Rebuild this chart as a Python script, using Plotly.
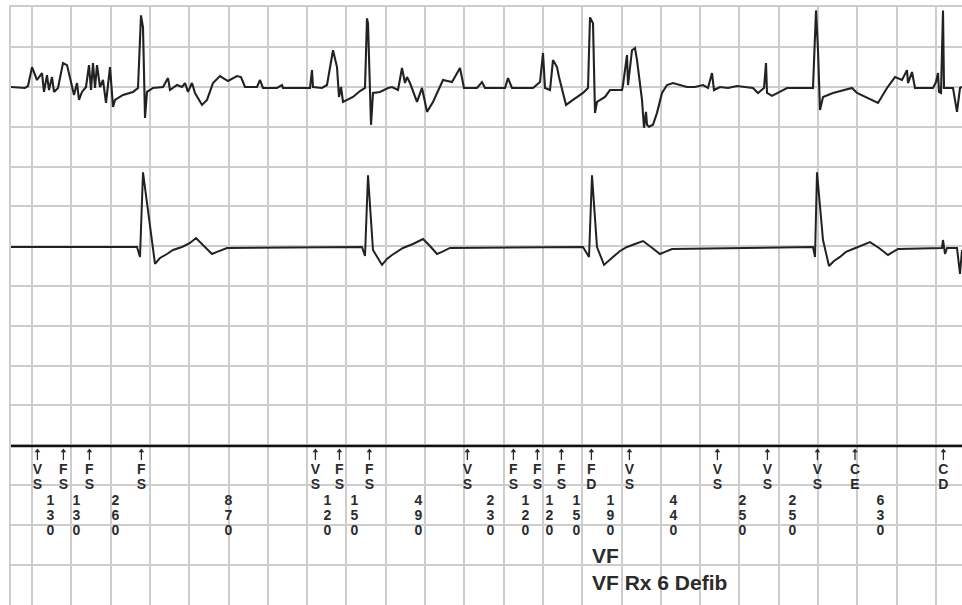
import plotly.graph_objects as go

# ---------------------------------------------------------------------------
# Channel 1: far-field electrogram vertices (time in ms, amplitude in µV)
# ---------------------------------------------------------------------------
egm1_t = [
    -105, -35, -20, 0, 25, 50, 60, 75, 85, 100,
    110, 130, 155, 175, 195, 210, 225, 235, 250, 270,
    285, 295, 305, 315, 325, 340, 355, 370, 390, 405,
    415, 455, 505, 530, 545, 555, 565, 575, 605, 655,
    680, 690, 725, 750, 765, 780, 800, 815, 850, 875,
    905, 940, 980, 1025, 1045, 1065, 1125, 1140, 1155, 1225,
    1250, 1255, 1390, 1400, 1405, 1450, 1475, 1505, 1525, 1535,
    1545, 1555, 1605, 1640, 1665, 1675, 1680, 1695, 1705, 1740,
    1780, 1800, 1830, 1850, 1865, 1875, 1890, 1925, 1950, 1975,
    2005, 2055, 2100, 2140, 2160, 2225, 2250, 2265, 2365, 2380,
    2400, 2505, 2540, 2555, 2565, 2590, 2605, 2625, 2635, 2650,
    2670, 2705, 2755, 2780, 2790, 2805, 2815, 2825, 2865, 2890,
    2950, 2955, 2975, 2980, 3000, 3015, 3025, 3050, 3060, 3070,
    3075, 3085, 3105, 3125, 3150, 3175, 3205, 3275, 3315, 3355,
    3380, 3400, 3410, 3440, 3480, 3525, 3605, 3630, 3660, 3670,
    3675, 3700, 3775, 3905, 3920, 3930, 3940, 3955, 4005, 4100,
    4125, 4230, 4275, 4315, 4350, 4375, 4380, 4400, 4415, 4505,
    4520, 4530, 4535, 4545, 4555, 4560, 4605, 4625, 4640, 4650,
]
egm1_uv = [
    0, -12, 12, 250, 88, 175, -62, 150, -38, 125,
    -62, -12, 300, 275, 62, -100, 50, -162, -62, 0,
    275, -38, 300, -12, 275, 0, 88, -200, 250, -250,
    -162, -100, -62, -12, 900, 750, -388, -62, -12, 0,
    112, -38, 25, 0, 50, -62, 50, -75, -225, -162,
    50, 138, 75, 138, 125, 0, 0, 88, -12, -12,
    25, -12, -12, 212, 0, -12, 25, 462, 250, -125,
    0, -188, -125, -50, -12, 862, 800, -475, -75, -62,
    -12, 0, -38, 238, 50, 125, 50, -188, -12, -312,
    -188, 88, 62, 238, -12, -12, 62, -12, -12, 112,
    -12, -12, 62, 425, -12, -38, 338, 250, 125, -38,
    -225, -162, -75, -12, 875, 800, -325, -188, -125, -38,
    -38, 25, 400, 25, 462, 488, 338, -162, -512, -312,
    -475, -500, -475, -325, -75, 25, 50, 0, 0, 25,
    -12, 175, -38, 0, -12, 12, -12, -75, -12, 300,
    -75, -112, -12, -12, 962, 462, -288, -125, -75, -12,
    -75, -200, -12, 125, 88, 212, 50, 188, -12, -12,
    62, 175, -62, -75, 962, -12, -12, -312, -12, 0,
]

# ---------------------------------------------------------------------------
# Channel 2: near-field electrogram vertices (time in ms, amplitude in µV)
# ---------------------------------------------------------------------------
egm2_t = [
    -105, 525, 540, 555, 615, 640, 675, 705, 750, 790,
    820, 855, 900, 925, 975,
    1650, 1665, 1680, 1705, 1750, 1775, 1800, 1830, 1855, 1905,
    1955, 1990, 2025, 2050, 2090,
    2755, 2785, 2800, 2825, 2860, 2880, 2905, 2940, 2975, 3015,
    3055, 3095, 3140, 3165, 3200,
    3905, 3915, 3925, 3955, 3985, 4010, 4040, 4070, 4105, 4150,
    4190, 4235, 4280, 4305, 4330,
    4550, 4555, 4565, 4575, 4625, 4640, 4650,
]
egm2_uv = [
    0, 0, -125, 938, -212, -138, -88, -38, 0, 50,
    112, 25, -88, -62, -12,
    0, -112, 900, -38, -225, -150, -100, -50, -12, 38,
    100, 12, -88, -62, -12,
    0, -125, 900, 0, -225, -175, -125, -50, 0, 38,
    75, 0, -88, -62, -25,
    0, -125, 938, 88, -238, -175, -125, -62, -25, 25,
    62, -12, -100, -62, -25,
    -12, 88, -88, -12, -12, -338, -38,
]

# ---------------------------------------------------------------------------
# Marker channel: sensed-event codes and the intervals between them (ms)
# ---------------------------------------------------------------------------
marker_codes = ["VS", "FS", "FS", "FS", "VS", "FS", "FS", "VS", "FS",
                "FS", "FS", "FD", "VS", "VS", "VS", "VS", "CD"]
intervals_ms = [130, 130, 260, 870, 120, 150, 490, 230, 120,
                120, 150, 190, 440, 250, 250, 630]
first_marker_ms = 27
charge_end_code = "CE"
charge_end_ms = 4115
episode_notes = ["VF", "VF Rx 6 Defib"]

# ---------------------------------------------------------------------------
# Page geometry: 25 mm/s paper, 0.2 px per ms, ~39.8 px per 500 µV
# ---------------------------------------------------------------------------
W, H = 962, 605
LEFT_PX, TOP_PX = 11, 7
T_LEFT, T_RIGHT = -105, 4650
UV_PER_PX = 500 / 39.8
CELL_MS = 196.5
CH1_BASE_PX, CH2_BASE_PX = 87, 247

GRID = "#cdcdcd"
INK = "#222222"
TXT = "#2b2b2b"
FONT = "Arial, Liberation Sans, sans-serif"


def uv_range(base_px):
    return [(base_px - H) * UV_PER_PX, (base_px - TOP_PX) * UV_PER_PX]


# event times follow from the stated intervals
sensed_ms = [first_marker_ms]
for iv in intervals_ms:
    sensed_ms.append(sensed_ms[-1] + iv)

events = list(zip(sensed_ms, marker_codes)) + [(charge_end_ms, charge_end_code)]
events.sort()
event_ms = [e[0] for e in events]
event_codes = [e[1] for e in events]
interval_mid_ms = [(a + b) / 2 for a, b in zip(sensed_ms[:-1], sensed_ms[1:])]

fig = go.Figure()

fig.add_trace(go.Scatter(x=egm1_t, y=egm1_uv, mode="lines", yaxis="y",
                         line=dict(color=INK, width=2.1), hoverinfo="skip"))
fig.add_trace(go.Scatter(x=egm2_t, y=egm2_uv, mode="lines", yaxis="y2",
                         line=dict(color=INK, width=2.0), hoverinfo="skip"))

# marker arrows (y3 is measured in page rows)
shaft_x, shaft_y = [], []
for t in event_ms:
    shaft_x += [t, t, None]
    shaft_y += [452, 460, None]
fig.add_trace(go.Scatter(x=shaft_x, y=shaft_y, mode="lines", yaxis="y3",
                         line=dict(color=TXT, width=1.3), hoverinfo="skip"))
fig.add_trace(go.Scatter(x=event_ms, y=[451] * len(event_ms), mode="markers",
                         yaxis="y3", hoverinfo="skip",
                         marker=dict(symbol="triangle-up", size=5, color=TXT)))

# stacked marker letters
code_rows = [470, 485]
cx, cy, ct = [], [], []
for t, code in zip(event_ms, event_codes):
    for ch, row in zip(code, code_rows):
        cx.append(t)
        cy.append(row)
        ct.append(ch)
fig.add_trace(go.Scatter(x=cx, y=cy, text=ct, mode="text", yaxis="y3",
                         hoverinfo="skip",
                         textfont=dict(family=FONT, size=14, color=TXT,
                                       weight="bold")))

# stacked interval digits
digit_rows = [501, 516, 531]
dx, dy, dt = [], [], []
for t, iv in zip(interval_mid_ms, intervals_ms):
    for ch, row in zip(str(iv), digit_rows):
        dx.append(t)
        dy.append(row)
        dt.append(ch)
fig.add_trace(go.Scatter(x=dx, y=dy, text=dt, mode="text", yaxis="y3",
                         hoverinfo="skip",
                         textfont=dict(family=FONT, size=14, color=TXT,
                                       weight="bold")))

# episode notes, aligned with the detection marker
fd_ms = event_ms[event_codes.index("FD")]
for note, row in zip(episode_notes, [555, 582]):
    fig.add_annotation(x=fd_ms, y=row, xref="x", yref="y3", text=note,
                       showarrow=False, xanchor="left", yanchor="middle",
                       xshift=-1,
                       font=dict(family=FONT, size=21, color=TXT,
                                 weight="bold"))

# marker channel baseline
fig.add_shape(type="line", xref="paper", yref="y3", x0=LEFT_PX / W, x1=1,
              y0=446, y1=446, line=dict(color="#111111", width=2.4))

dom_x = [LEFT_PX / W, 1]
dom_y = [0, (H - TOP_PX) / H]
hidden = dict(visible=False, showgrid=False, zeroline=False)

fig.update_layout(
    width=W, height=H,
    margin=dict(l=0, r=0, t=0, b=0),
    paper_bgcolor="white", plot_bgcolor="white",
    showlegend=False,
    xaxis=dict(domain=dom_x, range=[T_LEFT, T_RIGHT], tick0=0, dtick=CELL_MS,
               showgrid=True, gridcolor=GRID, gridwidth=1.5,
               zeroline=True, zerolinecolor=GRID, zerolinewidth=1.5,
               showticklabels=False, ticks="",
               showline=True, mirror=True, linecolor=GRID, linewidth=1.5),
    yaxis=dict(domain=dom_y, range=uv_range(CH1_BASE_PX), tick0=0, dtick=500,
               showgrid=True, gridcolor=GRID, gridwidth=1.5,
               zeroline=True, zerolinecolor=GRID, zerolinewidth=1.5,
               showticklabels=False, ticks="",
               showline=True, linecolor=GRID, linewidth=1.5),
    yaxis2=dict(domain=dom_y, range=uv_range(CH2_BASE_PX), overlaying="y",
                **hidden),
    yaxis3=dict(domain=dom_y, range=[H, TOP_PX], overlaying="y", **hidden),
)

fig.write_html("out.html")
